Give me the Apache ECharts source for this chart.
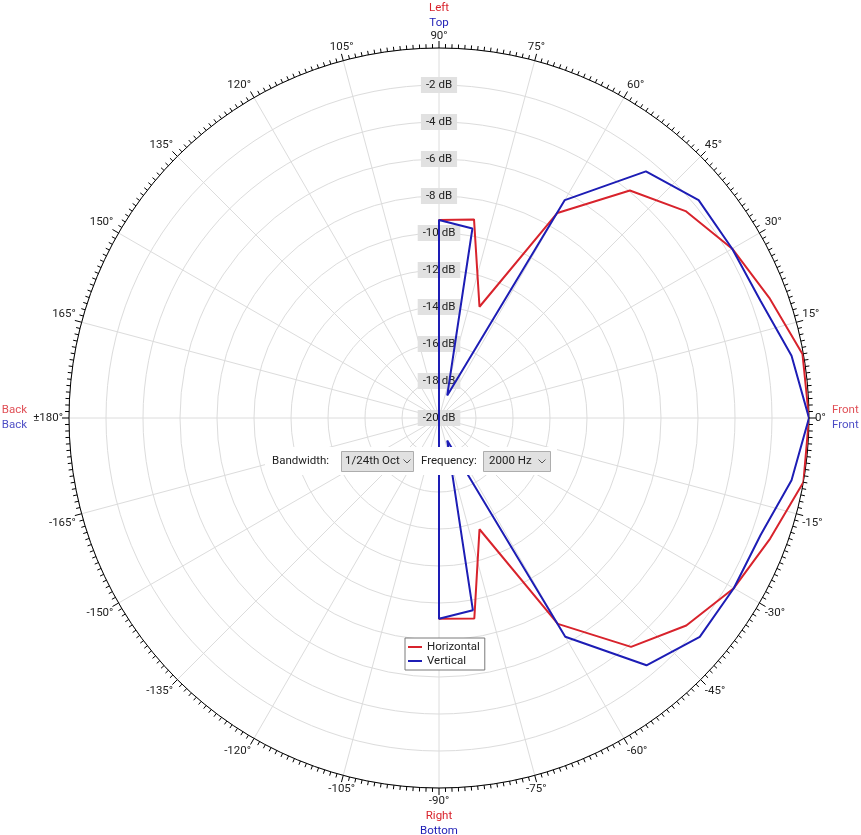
<!DOCTYPE html>
<html>
<head>
<meta charset="utf-8">
<script src="https://cdn.jsdelivr.net/npm/echarts@6/dist/echarts.min.js"></script>
<style>
html,body{margin:0;padding:0;background:#fff;}
#chart{width:861px;height:835px;}
</style>
</head>
<body>
<div id="chart"></div>
<script>
// ---- data (angle in degrees, level in dB) ----
const angles = [-90, -80, -70, -60, -50, -40, -30, -20, -10, 0, 10, 20, 30, 40, 50, 60, 70, 80, 90];
const horizontal = [-9.15, -9.0, -13.6, -7.15, -3.85, -2.55, -1.6, -0.95, 0, 0, -0.05, -1.0, -1.7, -2.6, -3.95, -7.2, -13.6, -9.1, -9.3];
const vertical = [-9.15, -9.45, -18.7, -6.35, -2.55, -1.6, -1.6, -1.5, -0.65, 0, -0.65, -1.5, -1.7, -1.68, -2.6, -6.4, -18.7, -9.6, -9.3];
const floorDb = -20;       // centre of the plot
const backAngle = -180;    // rear direction
const radiusTicks = { min: -20, max: 0, step: 2 };
const angleTicks = { min: -270, max: 90, step: 15 };

const RED = '#d8232c';
const BLUE = '#1d1db5';
const FONT = 'Roboto';
const FS = 11.5;
const CSSFONT = FS + 'px Roboto';

function buildSeries(values) {
  const pts = [[floorDb, backAngle]];
  angles.forEach((a, i) => pts.push([values[i], a]));
  pts.push([floorDb, backAngle]);
  return pts;
}

function angleLabel(v) {
  if (v === -270 || v === 90) return '{r|Left}\n{b|Top}\n{z|90°}';
  if (v === -90) return '-90°\n{r|Right}\n{b|Bottom}';
  if (v === -180) return '±180°';
  const d = v < -180 ? v + 360 : v;
  if (d === 15 || d === 165) return '{up|' + d + '°}';
  if (d === -15 || d === -165) return '{dn|' + d + '°}';
  return d + '°';
}

const rich = {
  r: { color: RED, fontFamily: FONT, fontSize: FS, lineHeight: 15 },
  b: { color: BLUE, fontFamily: FONT, fontSize: FS, lineHeight: 15 },
  z: { color: '#222', fontFamily: FONT, fontSize: FS, lineHeight: 11 },
  up: { color: '#222', fontFamily: FONT, fontSize: FS, lineHeight: 15, padding: [0, 0, 14, 0] },
  dn: { color: '#222', fontFamily: FONT, fontSize: FS, lineHeight: 15, padding: [16, 0, 0, 0] }
};

const chart = echarts.init(document.getElementById('chart'), null, { renderer: 'canvas' });

const option = {
  animation: false,
  backgroundColor: '#ffffff',
  textStyle: { fontFamily: FONT },
  polar: { center: [439, 418], radius: 370 },
  angleAxis: {
    type: 'value',
    min: angleTicks.min,
    max: angleTicks.max,
    interval: angleTicks.step,
    startAngle: 90,
    clockwise: false,
    axisLine: { show: true, lineStyle: { color: '#000', width: 1 } },
    axisTick: { show: true, length: 7, lineStyle: { color: '#000', width: 1 } },
    minorTick: { show: true, splitNumber: 15, length: 4, lineStyle: { color: '#000', width: 1 } },
    splitLine: { show: true, lineStyle: { color: '#dcdcdc', width: 1 } },
    axisLabel: {
      margin: 6,
      color: '#222',
      fontSize: FS,
      fontFamily: FONT,
      lineHeight: 15,
      formatter: angleLabel,
      rich: rich
    }
  },
  radiusAxis: {
    type: 'value',
    min: radiusTicks.min,
    max: radiusTicks.max,
    interval: radiusTicks.step,
    axisLine: { show: false },
    axisTick: { show: false },
    splitLine: { show: true, lineStyle: { color: '#dcdcdc', width: 1 } },
    axisLabel: {
      margin: 0,
      align: 'center',
      verticalAlign: 'middle',
      showMaxLabel: false,
      color: '#222',
      fontSize: FS,
      fontFamily: FONT,
      backgroundColor: '#e1e1e1',
      padding: [2, 5, 2, 5],
      formatter: v => v + ' dB'
    }
  },
  legend: {
    data: ['Horizontal', 'Vertical'],
    orient: 'vertical',
    left: 405,
    top: 638,
    padding: [2, 5, 2, 3],
    itemGap: 0,
    itemWidth: 14,
    itemHeight: 2,
    icon: 'rect',
    backgroundColor: '#fff',
    borderColor: '#7a7a7a',
    borderWidth: 1,
    borderRadius: 0,
    textStyle: { color: '#222', fontSize: FS, fontFamily: FONT, lineHeight: 14 }
  },
  series: [
    {
      name: 'Horizontal',
      type: 'line',
      coordinateSystem: 'polar',
      data: buildSeries(horizontal),
      symbol: 'none',
      lineStyle: { color: RED, width: 2 },
      itemStyle: { color: RED },
      z: 3
    },
    {
      name: 'Vertical',
      type: 'line',
      coordinateSystem: 'polar',
      data: buildSeries(vertical),
      symbol: 'none',
      lineStyle: { color: BLUE, width: 2 },
      itemStyle: { color: BLUE },
      z: 4
    },
    {
      name: 'directions',
      type: 'scatter',
      coordinateSystem: 'polar',
      symbolSize: 0,
      silent: true,
      label: { show: true, rich: rich, fontFamily: FONT, fontSize: FS },
      data: [
        { value: [0, 0], label: { position: 'right', distance: 23, formatter: '{r|Front}\n{b|Front}' } },
        { value: [0, backAngle], label: { position: 'left', distance: 42, align: 'right', formatter: '{r|Back}\n{b|Back}' } }
      ]
    }
  ],
  graphic: [
    { type: 'rect', z: 100, shape: { x: 265, y: 447, width: 292, height: 28 }, style: { fill: '#fff' } },
    { type: 'text', z: 101, x: 272, y: 461, style: { text: 'Bandwidth:', fill: '#222', font: CSSFONT, verticalAlign: 'middle' } },
    { type: 'rect', z: 101, shape: { x: 341.5, y: 451.5, width: 72, height: 20 }, style: { fill: '#e1e1e1', stroke: '#adadad', lineWidth: 1 } },
    { type: 'text', z: 102, x: 345, y: 461.5, style: { text: '1/24th Oct', fill: '#222', font: CSSFONT, verticalAlign: 'middle' } },
    { type: 'polyline', z: 102, shape: { points: [[403.5, 459.5], [407, 463], [410.5, 459.5]] }, style: { stroke: '#555', lineWidth: 1, fill: null } },
    { type: 'text', z: 101, x: 421, y: 461, style: { text: 'Frequency:', fill: '#222', font: CSSFONT, verticalAlign: 'middle' } },
    { type: 'rect', z: 101, shape: { x: 483.5, y: 451.5, width: 67, height: 20 }, style: { fill: '#e1e1e1', stroke: '#adadad', lineWidth: 1 } },
    { type: 'text', z: 102, x: 489, y: 461.5, style: { text: '2000 Hz', fill: '#222', font: CSSFONT, verticalAlign: 'middle' } },
    { type: 'polyline', z: 102, shape: { points: [[538.5, 459.5], [542, 463], [545.5, 459.5]] }, style: { stroke: '#555', lineWidth: 1, fill: null } }
  ]
};

chart.setOption(option);
</script>
</body>
</html>
